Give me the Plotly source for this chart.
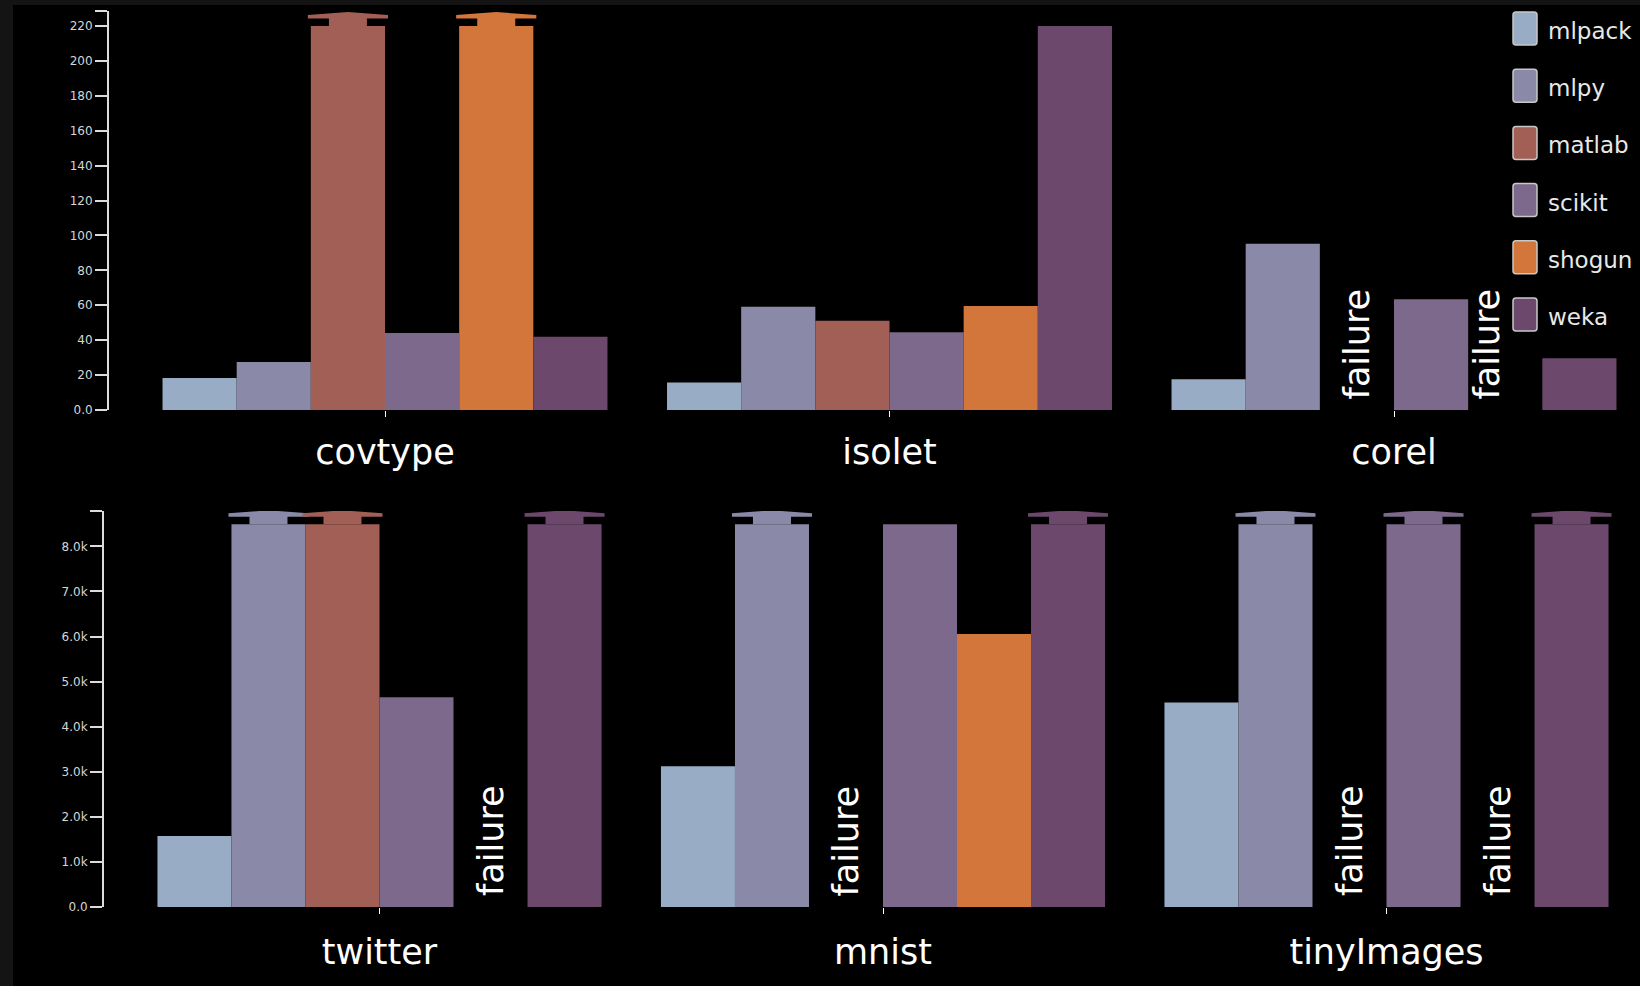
import plotly.graph_objects as go

# ---------------- data ----------------
LIBRARIES = ["mlpack", "mlpy", "matlab", "scikit", "shogun", "weka"]
COLORS = ["#98acc6", "#8a8aa8", "#a25f55", "#7d698b", "#d3763c", "#6c496c"]

TOP_DATASETS = ["covtype", "isolet", "corel"]
top_mlpack = [18.3, 15.7, 17.6]
top_mlpy = [27.5, 59.2, 95.3]
top_matlab = [220, 51.2, None]
top_scikit = [44.1, 44.5, 63.4]
top_shogun = [220, 59.6, None]
top_weka = [42.0, 220, 29.6]
TOP_CLIPPED = [("matlab", "covtype"), ("shogun", "covtype")]
TOP_TICKS = [0, 20, 40, 60, 80, 100, 120, 140, 160, 180, 200, 220]
TOP_TICK_LABELS = ["0.0", "20", "40", "60", "80", "100", "120", "140", "160", "180", "200", "220"]

BOT_DATASETS = ["twitter", "mnist", "tinyImages"]
bot_mlpack = [1573, 3125, 4536]
bot_mlpy = [8490, 8490, 8490]
bot_matlab = [8490, None, None]
bot_scikit = [4654, 8490, 8490]
bot_shogun = [None, 6054, None]
bot_weka = [8490, 8490, 8490]
BOT_CLIPPED = [("mlpy", "twitter"), ("matlab", "twitter"), ("weka", "twitter"),
               ("mlpy", "mnist"), ("weka", "mnist"),
               ("mlpy", "tinyImages"), ("scikit", "tinyImages"), ("weka", "tinyImages")]
BOT_TICKS = [0, 1000, 2000, 3000, 4000, 5000, 6000, 7000, 8000]
BOT_TICK_LABELS = ["0.0", "1.0k", "2.0k", "3.0k", "4.0k", "5.0k", "6.0k", "7.0k", "8.0k"]

FAILURE_TEXT = "failure"

# ---------------- layout constants ----------------
FIG_W, FIG_H = 1640, 986
BARGAP = 0.118
NLIB = len(LIBRARIES)
BW = (1 - BARGAP) / NLIB

TOP_YMAX = 228.6
BOT_YMAX = 8785
# plot areas in pixels (left, top, right, bottom)
TOP_BOX = (109, 11, 1640, 410)
BOT_BOX = (104, 511, 1640, 907)
TOP_PX_PER_UNIT = 504.5
BOT_PX_PER_UNIT = 503.5
TOP_X0 = (109 - 385) / 504.5
BOT_X0 = (104 - 379.5) / 503.5

LEGEND_LEFT = 1513
TEXT_FONT = "DejaVu Sans"
TICK_FONT = "DejaVu Sans"

top_vals = [top_mlpack, top_mlpy, top_matlab, top_scikit, top_shogun, top_weka]
bot_vals = [bot_mlpack, bot_mlpy, bot_matlab, bot_scikit, bot_shogun, bot_weka]


def px_x(p):
    return p / FIG_W


def px_y(p):
    return (FIG_H - p) / FIG_H


fig = go.Figure()

rows = [
    dict(xa="x", ya="y", datasets=TOP_DATASETS, vals=top_vals, clipped=TOP_CLIPPED,
         box=TOP_BOX, ymax=TOP_YMAX, ppu=TOP_PX_PER_UNIT, x0=TOP_X0,
         ticks=TOP_TICKS, labels=TOP_TICK_LABELS, standoff=5, near_legend=True),
    dict(xa="x2", ya="y2", datasets=BOT_DATASETS, vals=bot_vals, clipped=BOT_CLIPPED,
         box=BOT_BOX, ymax=BOT_YMAX, ppu=BOT_PX_PER_UNIT, x0=BOT_X0,
         ticks=BOT_TICKS, labels=BOT_TICK_LABELS, standoff=8, near_legend=False),
]

annotations = []
for r in rows:
    xidx = list(range(len(r["datasets"])))
    for k, lib in enumerate(LIBRARIES):
        fig.add_trace(go.Bar(
            x=xidx, y=r["vals"][k], name=lib, marker=dict(color=COLORS[k], line=dict(width=0)),
            xaxis=r["xa"], yaxis=r["ya"], showlegend=False, hoverinfo="x+y+name"))
    l, t, rr, b = r["box"]
    sx = 1.0 / r["ppu"]
    sy = r["ymax"] / (b - t)
    # arrows on clipped bars
    for lib, ds in r["clipped"]:
        k = LIBRARIES.index(lib)
        i = r["datasets"].index(ds)
        c = i - (1 - BARGAP) / 2 + (k + 0.5) * BW
        top = r["vals"][k][i]
        hs = 19 * sx
        hw = BW / 2 + 3 * sx
        n, e, tip = 7.5 * sy, 3.5 * sy, 14 * sy
        fig.add_trace(go.Scatter(
            x=[c - hs, c - hs, c - hw, c - hw, c, c + hw, c + hw, c + hs, c + hs, c - hs],
            y=[top, top + n, top + n, top + n + e, top + tip, top + n + e, top + n, top + n, top, top],
            mode="lines", fill="toself", fillcolor=COLORS[k], line=dict(width=0, color=COLORS[k]),
            xaxis=r["xa"], yaxis=r["ya"], showlegend=False, hoverinfo="skip"))
    # failure labels (nudged left if they would touch the legend)
    for k, lib in enumerate(LIBRARIES):
        for i, v in enumerate(r["vals"][k]):
            if v is None:
                c = i - (1 - BARGAP) / 2 + (k + 0.5) * BW
                cpx = l + (c - r["x0"]) * r["ppu"]
                shift = 0
                if r["near_legend"] and cpx + 14 > LEGEND_LEFT - 12:
                    shift = (LEGEND_LEFT - 12) - (cpx + 14)
                annotations.append(dict(
                    x=c, y=0, xref=r["xa"], yref=r["ya"], text=FAILURE_TEXT, showarrow=False,
                    textangle=-90, xanchor="center", yanchor="bottom", yshift=9, xshift=shift,
                    font=dict(family=TEXT_FONT, size=35, color="#ffffff")))

# frame: grey strips at left and top, black elsewhere
shapes = [
    dict(type="rect", xref="paper", yref="paper", x0=0, x1=px_x(13), y0=0, y1=1,
         fillcolor="#141414", line=dict(width=0), layer="below"),
    dict(type="rect", xref="paper", yref="paper", x0=0, x1=1, y0=px_y(5), y1=1,
         fillcolor="#141414", line=dict(width=0), layer="below"),
]
# legend (drawn manually, tall rounded swatches)
for k, lib in enumerate(LIBRARIES):
    top_px = 12 + 57.2 * k
    x0, x1, y0, y1, rad = LEGEND_LEFT, LEGEND_LEFT + 24, top_px, top_px + 33, 3
    path = (f"M {px_x(x0 + rad)},{px_y(y0)} L {px_x(x1 - rad)},{px_y(y0)} "
            f"Q {px_x(x1)},{px_y(y0)} {px_x(x1)},{px_y(y0 + rad)} "
            f"L {px_x(x1)},{px_y(y1 - rad)} Q {px_x(x1)},{px_y(y1)} {px_x(x1 - rad)},{px_y(y1)} "
            f"L {px_x(x0 + rad)},{px_y(y1)} Q {px_x(x0)},{px_y(y1)} {px_x(x0)},{px_y(y1 - rad)} "
            f"L {px_x(x0)},{px_y(y0 + rad)} Q {px_x(x0)},{px_y(y0)} {px_x(x0 + rad)},{px_y(y0)} Z")
    shapes.append(dict(type="path", xref="paper", yref="paper", path=path,
                       fillcolor=COLORS[k], line=dict(color="#c8c8c8", width=1.5), layer="above"))
    annotations.append(dict(x=px_x(1546), y=px_y(top_px + 19), xref="paper", yref="paper",
                            text=lib, showarrow=False, xanchor="left", yanchor="middle",
                            font=dict(family=TEXT_FONT, size=23, color="#e8e8e8")))


def yaxis_cfg(r):
    l, t, rr, b = r["box"]
    return dict(domain=[px_y(b), px_y(t)], range=[0, r["ymax"]], anchor=r["xa"], automargin=False,
                tickmode="array", tickvals=r["ticks"] + [r["ymax"]], ticktext=r["labels"] + [""],
                ticks="outside", ticklen=12, tickwidth=2, tickcolor="#dcdcdc",
                showline=True, linecolor="#dcdcdc", linewidth=2,
                showgrid=False, zeroline=False,
                tickfont=dict(family=TICK_FONT, size=12, color="#d6d6d6"))


def xaxis_cfg(r):
    l, t, rr, b = r["box"]
    return dict(domain=[px_x(l), px_x(rr)], range=[r["x0"], r["x0"] + (rr - l) / r["ppu"]],
                anchor=r["ya"], automargin=False, tickmode="array",
                tickvals=list(range(len(r["datasets"]))),
                ticktext=r["datasets"], ticks="outside", ticklen=6, tickwidth=1,
                tickcolor="#ffffff", showline=False, showgrid=False, zeroline=False,
                ticklabelstandoff=r["standoff"],
                tickfont=dict(family=TEXT_FONT, size=35, color="#ffffff"))


fig.update_layout(
    width=FIG_W, height=FIG_H,
    margin=dict(l=0, r=0, t=0, b=0, autoexpand=False),
    paper_bgcolor="#000000", plot_bgcolor="rgba(0,0,0,0)",
    barmode="group", bargap=BARGAP, bargroupgap=0,
    xaxis=xaxis_cfg(rows[0]), yaxis=yaxis_cfg(rows[0]),
    xaxis2=xaxis_cfg(rows[1]), yaxis2=yaxis_cfg(rows[1]),
    shapes=shapes, annotations=annotations, showlegend=False,
)

fig.write_html("out.html")
